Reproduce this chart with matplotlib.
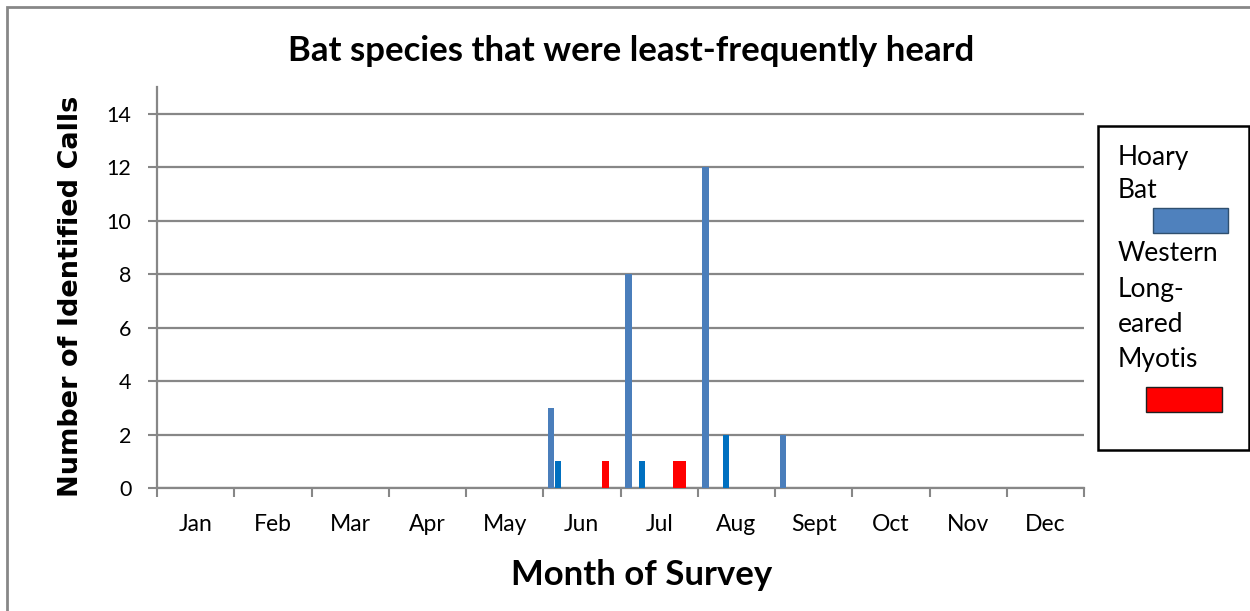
import matplotlib
matplotlib.use("Agg")
import matplotlib.pyplot as plt
from matplotlib.patches import Rectangle
import numpy as np

# Months of the survey year (x categories)
months = ["Jan", "Feb", "Mar", "Apr", "May", "Jun",
          "Jul", "Aug", "Sept", "Oct", "Nov", "Dec"]

# Identified calls per month, one list per clustered series slot
hoary_bat = [0, 0, 0, 0, 0, 3, 8, 12, 2, 0, 0, 0]
series_2 = [0, 0, 0, 0, 0, 1, 0, 0, 0, 0, 0, 0]
series_3 = [0, 0, 0, 0, 0, 0, 1, 0, 0, 0, 0, 0]
series_4 = [0, 0, 0, 0, 0, 0, 0, 2, 0, 0, 0, 0]
series_5 = [0] * 12
series_6 = [0] * 12
series_7 = [0] * 12
long_eared_a = [0, 0, 0, 0, 0, 0, 1, 0, 0, 0, 0, 0]
long_eared_b = [0, 0, 0, 0, 0, 1, 1, 0, 0, 0, 0, 0]
series_10 = [0] * 12

y_ticks = [0, 2, 4, 6, 8, 10, 12, 14]

series = [hoary_bat, series_2, series_3, series_4, series_5,
          series_6, series_7, long_eared_a, long_eared_b, series_10]
colors = ["#4A7EBB", "#0070C0", "#0070C0", "#0070C0", "#0070C0",
          "#0070C0", "#0070C0", "#FF0000", "#FF0000", "#FF0000"]

GRID = "#878787"
FONT = "Lato"

fig = plt.figure(figsize=(12.5, 6.11), dpi=100)
ax = fig.add_axes([157 / 1250, 1 - 488 / 611, (1084 - 157) / 1250, (488 - 87) / 611])

n = len(series)
gap = 1.4
w = 1.0 / (n + gap)
x0 = np.arange(len(months))
for i, (vals, c) in enumerate(zip(series, colors)):
    xs = x0 + gap / 2 * w + i * w
    ax.bar(xs, vals, width=w * 0.96, align="edge", color=c, zorder=3)

ax.set_xlim(0, len(months))
ax.set_ylim(0, 15)
ax.set_yticks(y_ticks)
ax.set_yticklabels([str(t) for t in y_ticks], fontfamily=FONT, fontsize=15.5)
ax.set_xticks(np.arange(len(months) + 1))
ax.set_xticklabels([])
ax.set_xticks(x0 + 0.5, minor=True)
ax.set_xticklabels(months, minor=True, fontfamily=FONT, fontsize=16.5)
ax.tick_params(axis="x", which="minor", length=0, pad=19)
ax.tick_params(axis="x", which="major", length=6.5, width=1.5, color=GRID)
ax.tick_params(axis="y", length=6.5, width=1.5, color=GRID, pad=12)

ax.grid(axis="y", color=GRID, linewidth=1.6, zorder=0)
for s in ["top", "right"]:
    ax.spines[s].set_visible(False)
for s in ["left", "bottom"]:
    ax.spines[s].set_color(GRID)
    ax.spines[s].set_linewidth(1.6)

fig.text(631 / 1250, 1 - 51 / 611, "Bat species that were least-frequently heard",
         ha="center", va="center", fontfamily=FONT, fontweight="bold", fontsize=25)
fig.text(642 / 1250, 1 - 575 / 611, "Month of Survey",
         ha="center", va="center", fontfamily=FONT, fontweight="bold", fontsize=25)
fig.text(71 / 1250, 1 - 296 / 611, "Number of Identified Calls", rotation=90,
         ha="center", va="center", fontfamily="DejaVu Sans", fontweight="bold", fontsize=19.5)

# Outer chart frame
fig.patches.append(Rectangle((7 / 1250, -0.1), 1.2, 1 - 7 / 611 + 0.1,
                             transform=fig.transFigure, fill=False,
                             edgecolor=GRID, linewidth=2))

# Legend box
def fbox(x1, y1, x2, y2, **kw):
    return Rectangle((x1 / 1250, 1 - y2 / 611), (x2 - x1) / 1250, (y2 - y1) / 611,
                     transform=fig.transFigure, **kw)

fig.patches.append(fbox(1098, 126, 1249, 450, fill=False, edgecolor="black", linewidth=1.8))
legend_lines = [("Hoary", 157), ("Bat", 191), ("Western", 254),
                ("Long-", 289), ("eared", 325), ("Myotis", 360)]
for txt, yy in legend_lines:
    fig.text(1118 / 1250, 1 - yy / 611, txt, ha="left", va="center",
             fontfamily=FONT, fontsize=19)
fig.patches.append(fbox(1153, 208, 1228, 233, facecolor="#4F81BD", edgecolor="#2F4F6F", linewidth=1))
fig.patches.append(fbox(1146, 387, 1222, 412, facecolor="#FF0000", edgecolor="#202020", linewidth=1))

fig.savefig("out.png", dpi=100)
